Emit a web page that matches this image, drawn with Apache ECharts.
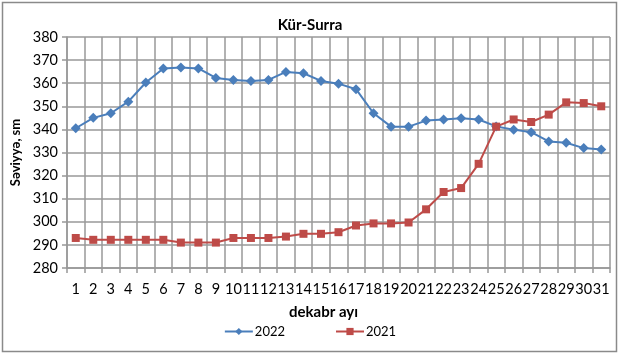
<!DOCTYPE html>
<html>
<head>
<meta charset="utf-8">
<script src="https://cdn.jsdelivr.net/npm/echarts@6/dist/echarts.min.js"></script>
<style>html,body{margin:0;padding:0;background:#fff}#c{width:620px;height:356px}</style>
</head>
<body>
<div id="c"></div>
<script>
const categories = ['1','2','3','4','5','6','7','8','9','10','11','12','13','14','15','16','17','18','19','20','21','22','23','24','25','26','27','28','29','30','31'];
const values2022 = [340.5,345,347,352,360.3,366.4,366.8,366.4,362.3,361.4,361,361.4,364.9,364.3,361,359.8,357.4,347,341.2,341.2,343.8,344.3,344.8,344.3,341.3,339.9,338.8,334.8,334.2,331.9,331.3];
const values2021 = [293,292.2,292.2,292.2,292.2,292.2,291,291,291,293,293,293,293.6,294.8,294.8,295.5,298.4,299.3,299.3,299.7,305.4,312.9,314.6,325.1,341.2,344.3,343.2,346.4,351.7,351.4,350];
const seriesNames = ['2022','2021'];
const yMin = 280, yMax = 380, yStep = 10;

const font = 'Lato, "Open Sans", sans-serif';
const gridColor = '#989898';
const chart = echarts.init(document.getElementById('c'), null, {renderer:'canvas'});
chart.setOption({
  animation: false,
  backgroundColor: '#fff',
  title: {
    text: 'Kür-Surra', left: 'center', top: 13,
    textStyle: {fontFamily: font, fontWeight: 'bold', fontSize: 15, color: '#000'}
  },
  graphic: [{
    type: 'rect', shape: {x: 2.5, y: 2.5, width: 614, height: 349},
    style: {fill: 'none', stroke: '#8a8a8a', lineWidth: 1.5}, silent: true, z: -1
  }],
  legend: {
    data: seriesNames, left: 'center', top: 320, itemGap: 50,
    itemWidth: 28, itemHeight: 9,
    textStyle: {fontFamily: font, fontSize: 13, color: '#000', padding: [0,0,0,-3]}
  },
  grid: {left: 67, right: 10, top: 37, bottom: 88, containLabel: false},
  xAxis: {
    type: 'category', data: categories, boundaryGap: true,
    name: 'dekabr ayı', nameLocation: 'middle', nameGap: 37,
    nameTextStyle: {fontFamily: font, fontWeight: 'bold', fontSize: 15, color: '#000', padding: [0, 30, 0, 0]},
    axisLine: {show: true, lineStyle: {color: gridColor, width: 1.5}},
    axisTick: {show: true, length: 5, inside: false, lineStyle: {color: gridColor, width: 1.5}},
    axisLabel: {interval: 0, margin: 14, fontFamily: font, fontSize: 14.5, color: '#000'},
    splitLine: {show: true, lineStyle: {color: gridColor, width: 1.5}}
  },
  yAxis: {
    type: 'value', min: yMin, max: yMax, interval: yStep,
    name: 'Səviyyə, sm', nameLocation: 'middle', nameGap: 45, nameRotate: 90,
    nameTextStyle: {fontFamily: font, fontWeight: 'bold', fontSize: 13, color: '#000'},
    axisLine: {show: true, lineStyle: {color: gridColor, width: 1.5}},
    axisTick: {show: true, length: 5, lineStyle: {color: gridColor, width: 1.5}},
    axisLabel: {margin: 9, fontFamily: font, fontSize: 14.5, color: '#000'},
    splitLine: {show: true, lineStyle: {color: gridColor, width: 1.5}}
  },
  series: [
    {
      name: seriesNames[0], type: 'line', data: values2022,
      symbol: 'diamond', symbolSize: 10,
      lineStyle: {color: '#4a7ebb', width: 2},
      itemStyle: {color: '#4a7ebb'}
    },
    {
      name: seriesNames[1], type: 'line', data: values2021,
      symbol: 'rect', symbolSize: 8,
      lineStyle: {color: '#be4b48', width: 2},
      itemStyle: {color: '#be4b48'}
    }
  ]
});
</script>
</body>
</html>
